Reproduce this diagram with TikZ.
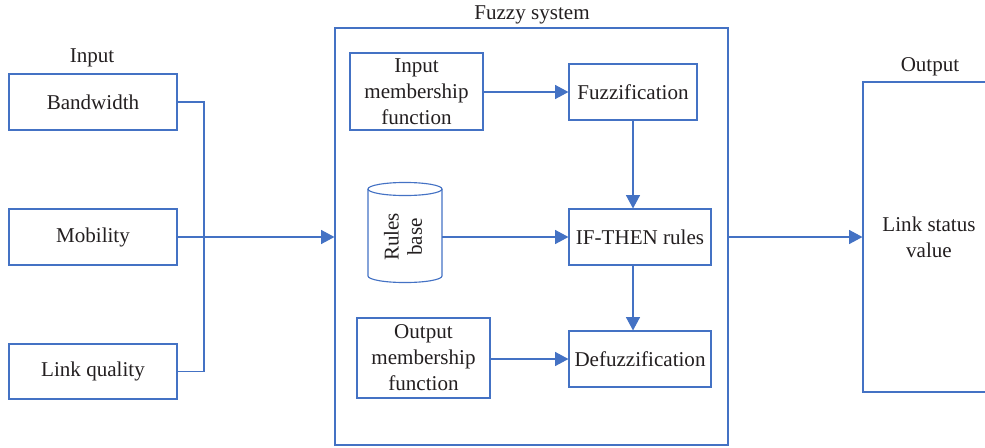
\documentclass[tikz,border=0pt]{standalone}
\usepackage{fontspec}
\setmainfont{Liberation Serif}
\usetikzlibrary{arrows.meta}
\definecolor{lineblue}{HTML}{4472C4}
\definecolor{textgray}{HTML}{231F20}
\begin{document}
\begin{tikzpicture}[x=0.75pt,y=-0.75pt,
  txt/.style={font=\fontsize{15.8}{19.5}\selectfont, text=textgray, align=center},
  box/.style={txt, draw=lineblue, line width=0.85pt, inner sep=0pt},
  conn/.style={draw=lineblue, line width=0.85pt},
  arr/.style={conn, -{Triangle[length=10pt,width=10.5pt]}}]
\useasboundingbox (0,0) rectangle (985,447);

% inputs
\node[txt] (inlbl) at (92,58) {Input};
\node[box, minimum width=168*0.75pt, minimum height=56*0.75pt] (bw)  at (93,102) {Bandwidth};
\node[box, minimum width=168*0.75pt, minimum height=56*0.75pt] (mob) at (93,237) {Mobility};
\node[box, minimum width=168*0.75pt, minimum height=55*0.75pt] (lq)  at (93,371.5) {Link quality};

% fuzzy system frame
\node[box, minimum width=393*0.75pt, minimum height=417*0.75pt] (sys) at (531.5,236.5) {};
\node[txt] (syslbl) at (532,15) {Fuzzy system};

% inner blocks
\node[box, minimum width=133*0.75pt, minimum height=77*0.75pt] (imf) at (416.5,91.5) {Input\\membership\\function};
\node[box, minimum width=128*0.75pt, minimum height=56*0.75pt] (fuzz) at (633,92) {Fuzzification};
\node[box, minimum width=142*0.75pt, minimum height=56*0.75pt] (ifthen) at (640,237) {IF-THEN rules};
\node[box, minimum width=133*0.75pt, minimum height=80*0.75pt] (omf) at (423.5,358) {Output\\membership\\function};
\node[box, minimum width=142*0.75pt, minimum height=56*0.75pt] (defuzz) at (640,359) {Defuzzification};

% rules base cylinder
\draw[conn] (405,189) ellipse [x radius=27.75pt, y radius=4.9pt];
\draw[conn] (368,189) -- (368,276) arc[start angle=180, end angle=360, x radius=27.75pt, y radius=4.9pt] -- (442,189);
\node[txt, inner sep=0pt, minimum width=74*0.75pt, minimum height=80*0.75pt] (rules) at (405,237)
  {\rotatebox{90}{\begin{tabular}{@{}c@{}}Rules\\[-2pt]base\end{tabular}}};

% output
\node[txt] (outlbl) at (930,67) {Output};
\node[box, minimum width=140*0.75pt, minimum height=310*0.75pt] (outbox) at (933,237) {};
\node[txt] (lsv) at (929,237) {Link status\\value};

% connectors
\draw[conn] (bw.east) -| (204,237) |- (lq.east);
\draw[arr] (mob.east) -- (mob.east -| sys.west);
\draw[arr] (imf.east |- fuzz.west) -- (fuzz.west);
\draw[arr] (fuzz.south -| 633,0) -- (633,0 |- ifthen.north);
\draw[arr] (rules.east |- ifthen.west) -- (ifthen.west);
\draw[arr] (633,0 |- ifthen.south) -- (633,0 |- defuzz.north);
\draw[arr] (omf.east |- defuzz.west) -- (defuzz.west);
\draw[arr] (sys.east |- outbox.west) -- (outbox.west);
\end{tikzpicture}
\end{document}
